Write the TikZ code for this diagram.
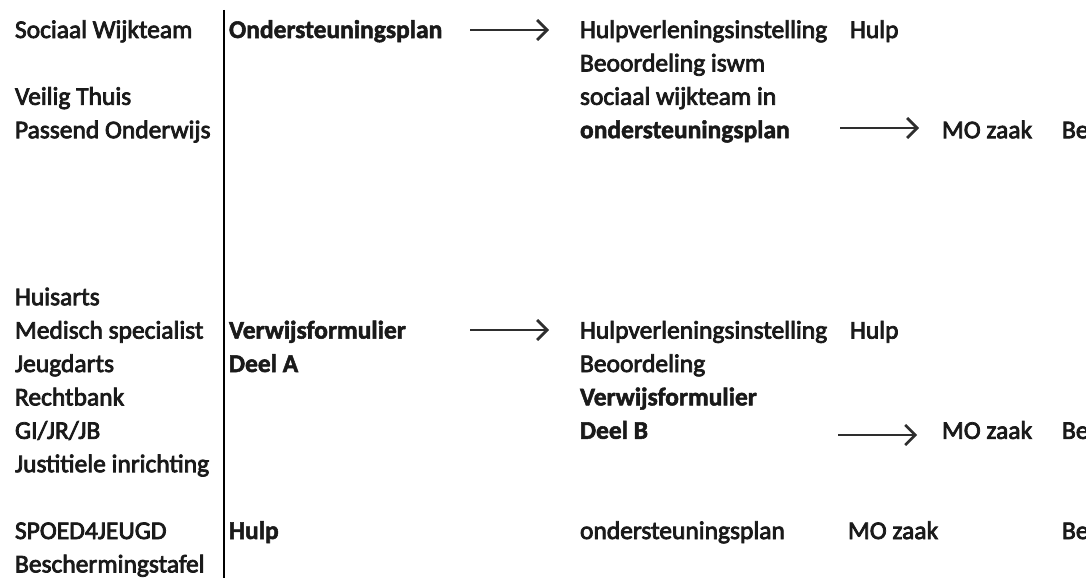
\documentclass[tikz,border=0pt]{standalone}
\usepackage{fontspec}
\setmainfont{Carlito}
\newfontfamily\regf{Carlito}[FakeBold=3]
\newfontfamily\boldf{Carlito Bold}[FakeBold=2]
\usetikzlibrary{arrows.meta}
\definecolor{ink}{HTML}{1A1A1A}
\definecolor{arrowgray}{HTML}{2E2E2E}
\tikzset{
  txt/.style={anchor=base west, inner sep=0pt, outer sep=0pt, text=ink, font=\regf\fontsize{25.5}{30}\selectfont},
  btxt/.style={txt, font=\boldf\fontsize{25.5}{30}\selectfont},
  arr/.style={draw=arrowgray, line width=2.8pt, -{Straight Barb[length=10pt,width=20pt,line width=2.8pt]}},
  thinarr/.style={draw=arrowgray, line width=2pt, -{Straight Barb[length=10pt,width=20pt,line width=2.6pt]}},
  divider/.style={draw=black, line width=2.8pt}
}
\begin{document}
\begin{tikzpicture}[x=1pt,y=-1pt]
\useasboundingbox (0,0) rectangle (1086,578);
% baselines: row k -> 38 + 33.4 k
% column 1
\node[txt] (swt) at (15,38) {Sociaal Wijkteam};
\node[txt] (vt)  at (15,104.8) {Veilig Thuis};
\node[txt] (po)  at (15,138.2) {Passend Onderwijs};
\node[txt] (ha)  at (15,305.2) {Huisarts};
\node[txt] (ms)  at (15,338.6) {Medisch specialist};
\node[txt] (jd)  at (15,372) {Jeugdarts};
\node[txt] (rb)  at (15,405.4) {Rechtbank};
\node[txt] (gi)  at (15,438.8) {GI/JR/JB};
\node[txt] (ji)  at (15,472.2) {Justitiele inrichting};
\node[txt] (sp)  at (15,539) {SPOED4JEUGD};
\node[txt] (bt)  at (15,572.4) {Beschermingstafel};
% divider
\draw[divider] (224,10) -- (224,578);
% column 2
\node[btxt] (osp) at (229,38) {Ondersteuningsplan};
\node[btxt] (vf1) at (229,338.6) {Verwijsformulier};
\node[btxt] (dla) at (229,372) {Deel A};
\node[btxt] (hlp) at (229,539) {Hulp};
% column 3, block 1
\node[txt] (hv1) at (580,38) {Hulpverleningsinstelling};
\node[txt] (h1)  at (850,38) {Hulp};
\node[txt] (bi)  at (580,71.4) {Beoordeling iswm};
\node[txt] (sw)  at (580,104.8) {sociaal wijkteam in};
\node[btxt] (osp2) at (580,138.2) {ondersteuningsplan};
\node[txt] (mo1) at (942,138.2) {MO zaak};
\node[txt] (be1) at (1062,138.2) {Be};
% column 3, block 2
\node[txt] (hv2) at (580,338.6) {Hulpverleningsinstelling};
\node[txt] (h2)  at (850,338.6) {Hulp};
\node[txt] (bo)  at (580,372) {Beoordeling};
\node[btxt] (vf2) at (580,405.4) {Verwijsformulier};
\node[btxt] (dlb) at (580,438.8) {Deel B};
\node[txt] (mo2) at (942,438.8) {MO zaak};
\node[txt] (be2) at (1062,438.8) {Be};
% bottom row
\node[txt] (osp3) at (580,539) {ondersteuningsplan};
\node[txt] (mo3) at (848,539) {MO zaak};
\node[txt] (be3) at (1062,539) {Be};
% arrows
\coordinate (a1s) at (470,30);
\coordinate (a2s) at (840,128);
\coordinate (a3s) at (470,330);
\coordinate (a4s) at (838,435);
\draw[arr] (a1s) -- ([xshift=-31pt]hv1.west |- a1s);
\draw[arr] (a2s) -- ([xshift=-23pt]mo1.west |- a2s);
\draw[arr] (a3s) -- ([xshift=-31pt]hv2.west |- a3s);
\draw[thinarr] (a4s) -- ([xshift=-25pt]mo2.west |- a4s);
\end{tikzpicture}
\end{document}
